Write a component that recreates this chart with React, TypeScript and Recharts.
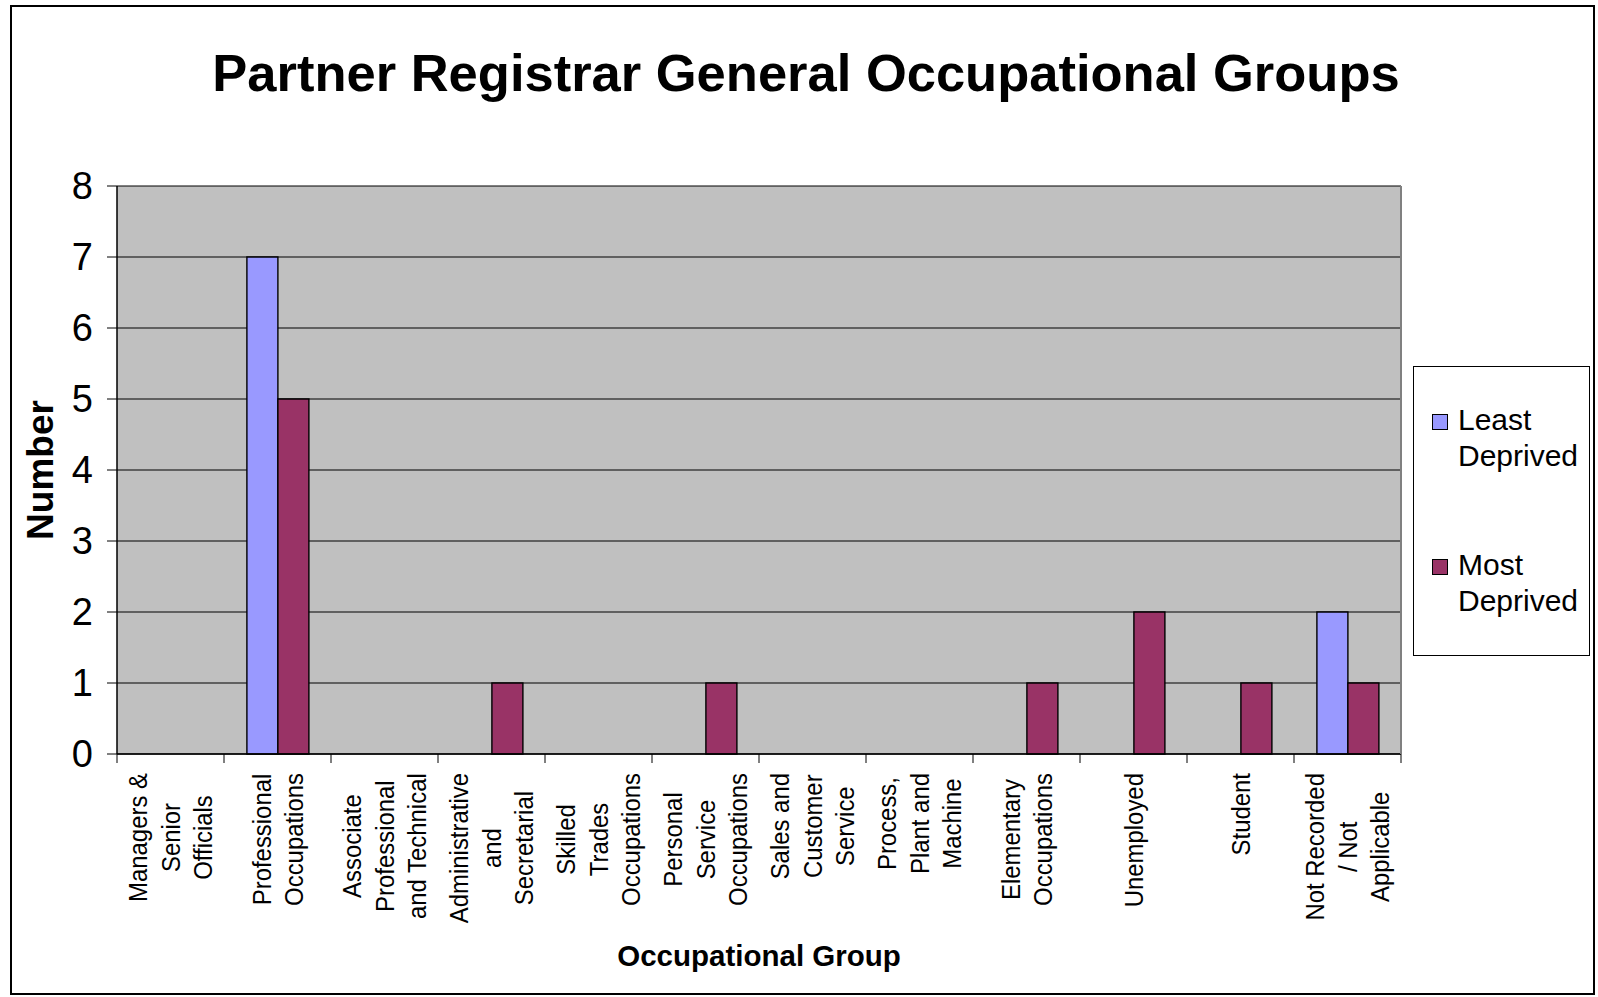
import React from "react"
import { BarChart, Bar, XAxis, YAxis, CartesianGrid } from "recharts"

const categoryLines: string[][] = [
  ["Managers &", "Senior", "Officials"],
  ["Professional", "Occupations"],
  ["Associate", "Professional", "and Technical"],
  ["Administrative", "and", "Secretarial"],
  ["Skilled", "Trades", "Occupations"],
  ["Personal", "Service", "Occupations"],
  ["Sales and", "Customer", "Service"],
  ["Process,", "Plant and", "Machine"],
  ["Elementary", "Occupations"],
  ["Unemployed"],
  ["Student"],
  ["Not Recorded", "/ Not", "Applicable"],
]
const leastDeprived = [0, 7, 0, 0, 0, 0, 0, 0, 0, 0, 0, 2]
const mostDeprived = [0, 5, 0, 1, 0, 1, 0, 0, 1, 2, 1, 1]
const yTicks = [0, 1, 2, 3, 4, 5, 6, 7, 8]

const series = [
  { key: "least", name: "Least Deprived", lines: ["Least", "Deprived"], color: "#9999FF" },
  { key: "most", name: "Most Deprived", lines: ["Most", "Deprived"], color: "#993366" },
]

const data = categoryLines.map((lines, i) => ({
  category: lines.join(" "),
  least: leastDeprived[i],
  most: mostDeprived[i],
}))

const FONT = '"Liberation Sans", Arial, sans-serif'
const W = 1598
const H = 997
const PLOT_LEFT = 117
const PLOT_RIGHT = 1401
const PLOT_TOP = 186
const PLOT_BOTTOM = 754
const BAND = (PLOT_RIGHT - PLOT_LEFT) / categoryLines.length
const LABEL_SIZE = 26
const LABEL_SQUEEZE = 0.92
const LINE_GAP = 32.6

let ctx: CanvasRenderingContext2D | null = null
function textWidth(s: string) {
  if (!ctx) ctx = document.createElement("canvas").getContext("2d")
  if (!ctx) return s.length * LABEL_SIZE * 0.5
  ctx.font = `${LABEL_SIZE}px ${FONT}`
  return ctx.measureText(s).width * LABEL_SQUEEZE
}

function CategoryTick(props: any) {
  const { x, y, index } = props
  const lines = categoryLines[index] || []
  const maxW = Math.max(...lines.map(textWidth))
  const cy = y + 19 + maxW / 2
  const n = lines.length
  return (
    <g>
      <line x1={x - BAND / 2} x2={x - BAND / 2} y1={y} y2={y + 9} stroke="#000" />
      {index === categoryLines.length - 1 && (
        <line x1={x + BAND / 2} x2={x + BAND / 2} y1={y} y2={y + 9} stroke="#000" />
      )}
      {lines.map((l, i) => (
        <text
          key={i}
          transform={`translate(${x + (i - (n - 1) / 2) * LINE_GAP}, ${cy}) rotate(-90) scale(${LABEL_SQUEEZE}, 1)`}
          textAnchor="middle"
          dominantBaseline="central"
          fontSize={LABEL_SIZE}
          fontFamily={FONT}
          fill="#000"
        >
          {l}
        </text>
      ))}
    </g>
  )
}

export default function App() {
  return (
    <div style={{ position: "absolute", left: 0, top: 0, width: W, height: H, background: "#fff", fontFamily: FONT }}>
      <div
        style={{
          position: "absolute", left: 10, top: 5, width: 1585, height: 990,
          border: "2px solid #000", boxSizing: "border-box",
        }}
      />
      <div
        style={{
          position: "absolute", left: 4, width: 1604, top: 40, textAlign: "center",
          fontSize: 52.5, fontWeight: "bold", lineHeight: "66px", color: "#000",
        }}
      >
        Partner Registrar General Occupational Groups
      </div>
      <div style={{ position: "absolute", left: 0, top: 0 }}>
        <BarChart
          width={W}
          height={H}
          data={data}
          margin={{ top: PLOT_TOP, right: W - PLOT_RIGHT - 1, bottom: 0, left: 0 }}
          barCategoryGap="21.4%"
          barGap={0}
        >
          <CartesianGrid vertical={false} fill="#C0C0C0" stroke="#000" strokeWidth={1} fillOpacity={1} />
          <XAxis
            dataKey="category"
            height={H - PLOT_BOTTOM}
            interval={0}
            tickSize={0}
            tickMargin={0}
            tickLine={false}
            axisLine={{ stroke: "#000", strokeWidth: 1.5 }}
            tick={<CategoryTick />}
          />
          <YAxis
            width={PLOT_LEFT}
            domain={[0, 8]}
            ticks={yTicks}
            interval={0}
            tickSize={10}
            tickMargin={14}
            tickLine={{ stroke: "#000" }}
            axisLine={{ stroke: "#000", strokeWidth: 1.5 }}
            tick={{ fill: "#000", fontSize: 38, fontFamily: FONT }}
          />
          <YAxis yAxisId="right" orientation="right" width={1} tick={false} tickLine={false} axisLine={{ stroke: "#808080", strokeWidth: 2 }} />
          {series.map((s) => (
            <Bar key={s.key} dataKey={s.key} name={s.name} fill={s.color} stroke="#000" strokeWidth={1.4} isAnimationActive={false} />
          ))}
        </BarChart>
      </div>
      <div
        style={{
          position: "absolute", left: 0, top: PLOT_TOP, width: 82, height: PLOT_BOTTOM - PLOT_TOP,
          display: "flex", alignItems: "center", justifyContent: "center",
        }}
      >
        <div style={{ transform: "rotate(-90deg)", fontSize: 37, fontWeight: "bold", whiteSpace: "nowrap" }}>Number</div>
      </div>
      <div
        style={{
          position: "absolute", left: PLOT_LEFT, width: PLOT_RIGHT - PLOT_LEFT, top: 938, textAlign: "center",
          fontSize: 29.5, fontWeight: "bold", lineHeight: "36px",
        }}
      >
        Occupational Group
      </div>
      <div
        style={{
          position: "absolute", left: 1413, top: 366, width: 177, height: 290,
          border: "1.5px solid #000", boxSizing: "border-box", background: "#fff",
        }}
      >
        {series.map((s, i) => (
          <div key={s.key} style={{ position: "absolute", left: 18, top: 35 + i * 145, display: "flex" }}>
            <div style={{ width: 16, height: 16, background: s.color, border: "1.5px solid #000", marginTop: 12, marginRight: 10, boxSizing: "border-box" }} />
            <div style={{ fontSize: 30, lineHeight: "36px" }}>
              {s.lines.map((l) => (
                <div key={l}>{l}</div>
              ))}
            </div>
          </div>
        ))}
      </div>
    </div>
  )
}
